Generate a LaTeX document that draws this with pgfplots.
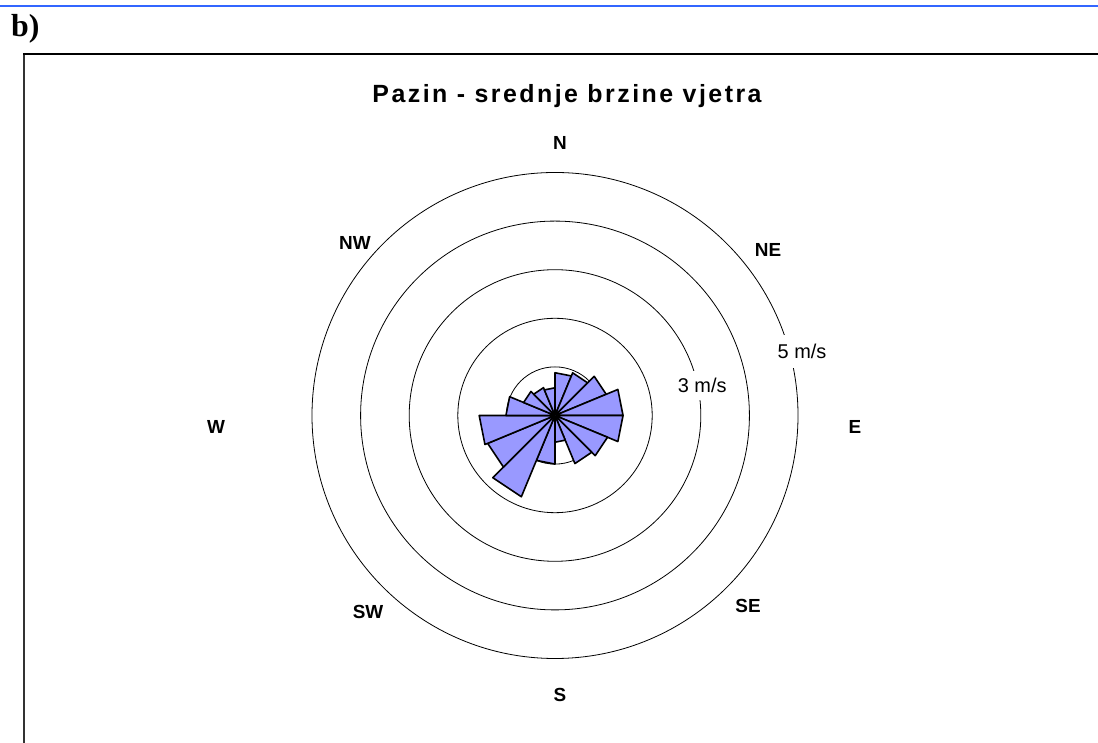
\documentclass[border=0pt]{standalone}
\usepackage{fontspec}
\setmainfont{Liberation Sans}
\newfontfamily\timesfont{Liberation Serif}
\usepackage{pgfplots}
\usepgfplotslibrary{polar}
\pgfplotsset{compat=1.18}
\definecolor{barfill}{RGB}{153,153,255}
\definecolor{topblue}{RGB}{51,102,255}
\tikzset{sector/.style={fill=barfill, draw=black, line width=1.6bp, line join=round, mark=none}}
\begin{document}
\begin{tikzpicture}[x=1bp,y=1bp]
\path[use as bounding box] (0,0) rectangle (1098,743);
\draw[topblue, line width=2.2bp] (0,737) -- (1098,737);
\draw[black!80, line width=2bp] (24,-5) -- (24,689.7);
\draw[black, line width=1.5bp] (23,689) -- (1105,689);
\node[anchor=base west, inner sep=0, font=\timesfont\bfseries\fontsize{32}{36}\selectfont] at (11,706) {b)};
\node[anchor=base, inner sep=0, font=\fontsize{25}{30}\selectfont\bfseries\addfontfeatures{LetterSpace=10}] at (567,640) {Pazin - srednje brzine vjetra};
\begin{polaraxis}[
  at={(555bp,327.5bp)}, anchor=origin,
  scale only axis, width=534.6bp,
  ymin=0, ymax=5.5, xmin=0, xmax=360,
  xtick=\empty, ytick={1,2,3,4,5}, yticklabels={},
  xmajorgrids=false, ymajorgrids=true,
  major grid style={black, line width=0.8bp},
  axis line style={draw=none},
  major tick length=0,
  clip=false,
]
% sector: polar angle (90 - bearing), mean wind speed m/s
\addplot[sector] coordinates {(0,0) (90,0.88) (67.5,0.88) (0,0)};
\addplot[sector] coordinates {(0,0) (67.5,0.95) (45,0.95) (0,0)};
\addplot[sector] coordinates {(0,0) (45,1.14) (22.5,1.14) (0,0)};
\addplot[sector] coordinates {(0,0) (22.5,1.40) (0,1.40) (0,0)};
\addplot[sector] coordinates {(0,0) (360,1.40) (337.5,1.40) (0,0)};
\addplot[sector] coordinates {(0,0) (337.5,1.17) (315,1.17) (0,0)};
\addplot[sector] coordinates {(0,0) (315,1.07) (292.5,1.07) (0,0)};
\addplot[sector] coordinates {(0,0) (292.5,0.55) (270,0.55) (0,0)};
\addplot[sector] coordinates {(0,0) (270,1.00) (247.5,1.00) (0,0)};
\addplot[sector] coordinates {(0,0) (247.5,1.81) (225,1.81) (0,0)};
\addplot[sector] coordinates {(0,0) (225,1.50) (202.5,1.50) (0,0)};
\addplot[sector] coordinates {(0,0) (202.5,1.56) (180,1.56) (0,0)};
\addplot[sector] coordinates {(0,0) (180,1.01) (157.5,1.01) (0,0)};
\addplot[sector] coordinates {(0,0) (157.5,0.70) (135,0.70) (0,0)};
\addplot[sector] coordinates {(0,0) (135,0.62) (112.5,0.62) (0,0)};
\addplot[sector] coordinates {(0,0) (112.5,0.57) (90,0.57) (0,0)};
\node[fill=white, inner xsep=1bp, inner ysep=7bp, font=\fontsize{20}{24}\selectfont] at (axis cs:11.5,3.09) {3 m/s};
\node[fill=white, inner xsep=1bp, inner ysep=9bp, font=\fontsize{20}{24}\selectfont] at (axis cs:14.5,5.25) {5 m/s};
\end{polaraxis}
\begin{scope}[every node/.style={font=\fontsize{19}{22}\selectfont\bfseries, inner sep=0}]
\node at (560,600) {N};
\node at (768,493) {NE};
\node at (855,316) {E};
\node at (748,137) {SE};
\node at (560,48) {S};
\node at (368,131) {SW};
\node at (216,316) {W};
\node at (355,500) {NW};
\end{scope}
\end{tikzpicture}
\end{document}
